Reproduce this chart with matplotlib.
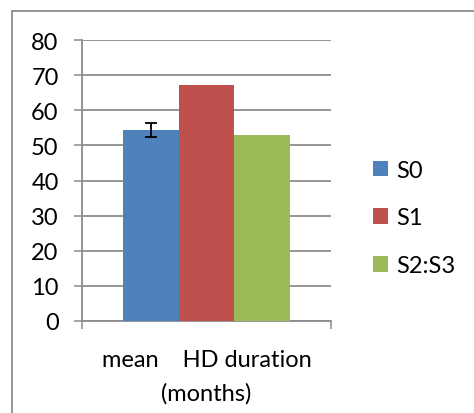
import matplotlib
matplotlib.use("Agg")
import matplotlib.pyplot as plt
from matplotlib.patches import Rectangle, Patch

categories = ["mean    HD duration\n(months)"]
series_names = ["S0", "S1", "S2:S3"]
series_values = [54.3, 67.2, 53.0]
series_errors = [2.0, None, None]
colors = ["#4F81BD", "#C0504D", "#9BBB59"]
yticks = [0, 10, 20, 30, 40, 50, 60, 70, 80]

plt.rcParams['font.family'] = ['Lato', 'DejaVu Sans']
W, H = 474, 414
FS = 17
fig = plt.figure(figsize=(W / 100, H / 100), dpi=100)
fig.patches.append(Rectangle((12 / W, -0.1), 1.2, (414 - 12) / H + 0.1, transform=fig.transFigure,
                             fill=False, edgecolor="#8c8c8c", linewidth=1.3))

ax = fig.add_axes([82 / W, (414 - 322) / H, (331 - 82) / W, (322 - 41) / H])
bw = 0.2236
for i, (name, v, e, c) in enumerate(zip(series_names, series_values, series_errors, colors)):
    x = (i - 1) * bw
    ax.bar(x, v, width=bw, color=c, label=name, zorder=3)
    if e is not None:
        ax.errorbar(x, v, yerr=e, fmt='none', ecolor='black', elinewidth=1.3,
                    capsize=4.3, capthick=1.3, zorder=4)

ax.set_xlim(-0.5, 0.5)
ax.set_ylim(0, 80)
ax.set_yticks(yticks)
ax.yaxis.grid(True, color="#8c8c8c", linewidth=1.3, zorder=0)
ax.set_axisbelow(True)
ax.tick_params(axis='y', direction='out', length=5.8, width=1.1, color="#8c8c8c",
               labelsize=FS, pad=11)
ax.set_xticks([-0.5, 0.5])
ax.set_xticklabels(["", ""])
ax.tick_params(axis='x', which='major', direction='out', length=5.8, width=1.1, color="#8c8c8c")
ax.set_xticks([0], minor=True)
ax.set_xticklabels(categories, minor=True, fontsize=FS, linespacing=1.72)
ax.tick_params(axis='x', which='minor', length=0, pad=20)
for s in ['top', 'right']:
    ax.spines[s].set_visible(False)
for s in ['left', 'bottom']:
    ax.spines[s].set_color("#8c8c8c")
    ax.spines[s].set_linewidth(1.3)

handles = [Patch(facecolor=c, edgecolor='none') for c in colors]
fig.legend(handles, series_names, loc='center left', bbox_to_anchor=(373 / W, (414 - 219) / H),
           frameon=False, fontsize=FS, handlelength=0.65, handleheight=0.65,
           handletextpad=0.35, labelspacing=1.13, borderpad=0, borderaxespad=0)

fig.savefig("out.png", dpi=100)
